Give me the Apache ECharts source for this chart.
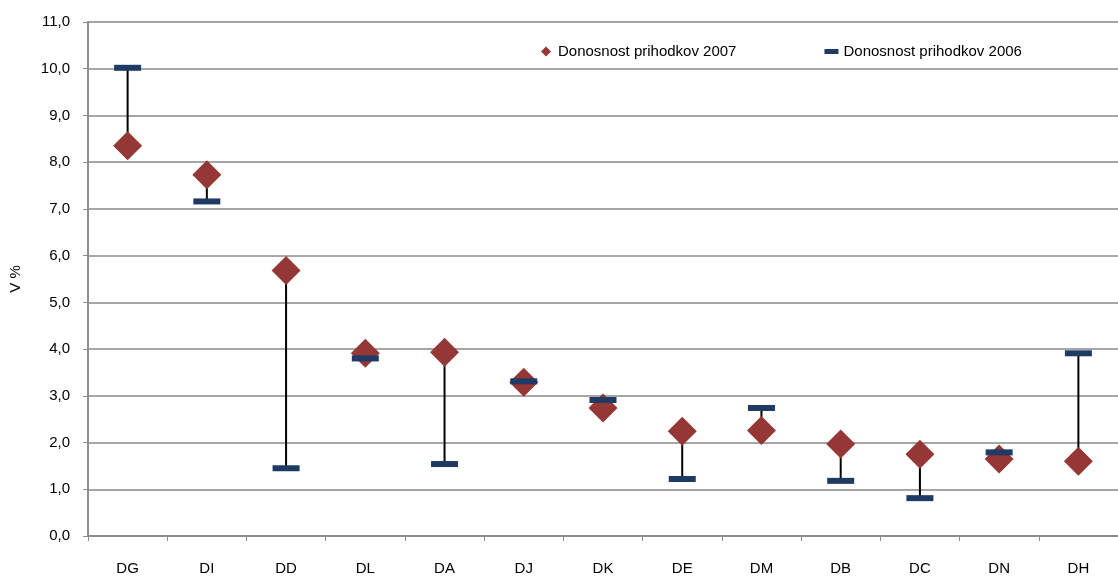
<!DOCTYPE html>
<html>
<head>
<meta charset="utf-8">
<script src="https://cdn.jsdelivr.net/npm/echarts@6/dist/echarts.min.js"></script>
<style>
  html, body { margin: 0; padding: 0; background: #fff; }
  #chart { width: 1118px; height: 576px; }
</style>
</head>
<body>
<div id="chart"></div>
<script>
// kategorije in vrednosti
var categories = ['DG', 'DI', 'DD', 'DL', 'DA', 'DJ', 'DK', 'DE', 'DM', 'DB', 'DC', 'DN', 'DH']
var donosnost2007 = [8.35, 7.73, 5.68, 3.91, 3.93, 3.29, 2.74, 2.24, 2.26, 1.97, 1.75, 1.65, 1.60]
var donosnost2006 = [10.02, 7.16, 1.45, 3.80, 1.54, 3.31, 2.91, 1.22, 2.74, 1.18, 0.81, 1.79, 3.91]
var yTicks = [0, 11, 1]

var font = 'Liberation Sans, Arial, sans-serif'
var myChart = echarts.init(document.getElementById('chart'))

var lineData = categories.map(function (c, i) {
  return [i, donosnost2007[i], donosnost2006[i]]
})

myChart.setOption({
  animation: false,
  grid: {
    left: 88,
    right: 0,
    top: 22,
    bottom: 39
  },
  legend: {
    top: 39,
    left: 536,
    itemGap: 88,
    itemWidth: 14,
    itemHeight: 10,
    textStyle: { fontFamily: font, fontSize: 15, color: '#000' },
    data: [
      { name: 'Donosnost prihodkov 2007', icon: 'path://M0,5L5,0L10,5L5,10Z' },
      { name: 'Donosnost prihodkov 2006', icon: 'path://M0,0H14V5H0Z' }
    ]
  },
  xAxis: {
    type: 'category',
    data: categories,
    boundaryGap: true,
    axisLine: { lineStyle: { color: '#8c8c8c', width: 2 } },
    axisTick: { show: true, alignWithLabel: false, length: 5, lineStyle: { color: '#8c8c8c', width: 1 } },
    axisLabel: { fontFamily: font, fontSize: 15, color: '#000', margin: 25 },
    splitLine: { show: false }
  },
  yAxis: {
    type: 'value',
    min: yTicks[0],
    max: yTicks[1],
    interval: yTicks[2],
    name: 'V %',
    nameLocation: 'middle',
    nameGap: 65,
    nameTextStyle: { fontFamily: font, fontSize: 15, color: '#000' },
    axisLine: { show: true, lineStyle: { color: '#8c8c8c', width: 2 } },
    axisTick: { show: true, length: 5, lineStyle: { color: '#8c8c8c' } },
    axisLabel: {
      fontFamily: font, fontSize: 15, color: '#000', margin: 18,
      formatter: function (v) { return v.toFixed(1).replace('.', ',') }
    },
    splitLine: { lineStyle: { color: '#a6a6a6', width: 2 } }
  },
  series: [
    {
      name: 'razlika',
      type: 'custom',
      data: lineData,
      z: 1,
      renderItem: function (params, api) {
        var p1 = api.coord([api.value(0), api.value(1)])
        var p2 = api.coord([api.value(0), api.value(2)])
        return {
          type: 'line',
          shape: { x1: p1[0], y1: p1[1], x2: p2[0], y2: p2[1] },
          style: { stroke: '#000', lineWidth: 2 }
        }
      }
    },
    {
      name: 'Donosnost prihodkov 2007',
      type: 'scatter',
      data: donosnost2007,
      symbol: 'diamond',
      symbolSize: 29,
      z: 2,
      itemStyle: { color: '#953735', opacity: 1 }
    },
    {
      name: 'Donosnost prihodkov 2006',
      type: 'scatter',
      data: donosnost2006,
      symbol: 'rect',
      symbolSize: [27, 6],
      z: 3,
      itemStyle: { color: '#1f3a63', opacity: 1 }
    }
  ]
})
</script>
</body>
</html>
